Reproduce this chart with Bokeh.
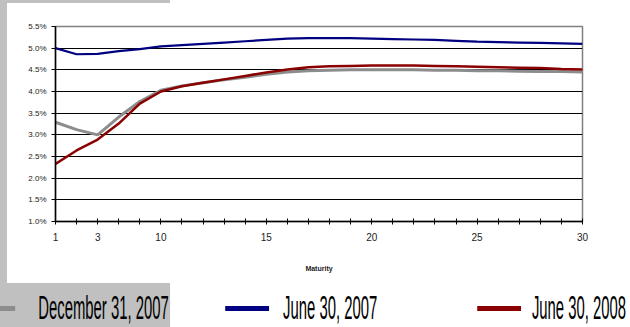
from bokeh.plotting import figure
from bokeh.layouts import column
from bokeh.models import (Range1d, FixedTicker, Legend, LegendItem,
                          ColumnDataSource, PrintfTickFormatter)
from bokeh.embed import file_html
from bokeh.resources import INLINE

# Treasury maturities (years) plotted as evenly spaced categories
maturities = [1, 2, 3, 5, 7, 10, 11, 12, 13, 14, 15, 16, 17, 18, 19, 20,
              21, 22, 23, 24, 25, 26, 27, 28, 29, 30]
labelled = [1, 3, 10, 15, 20, 25, 30]

# Yields in percent
june_2007 = [5.00, 4.86, 4.87, 4.93, 4.98, 5.04, 5.07, 5.10, 5.13, 5.16,
             5.19, 5.22, 5.23, 5.23, 5.23, 5.22, 5.21, 5.20, 5.19, 5.17,
             5.15, 5.14, 5.13, 5.12, 5.11, 5.10]
dec_2007 = [3.29, 3.12, 3.00, 3.41, 3.77, 4.03, 4.13, 4.20, 4.27, 4.33,
            4.40, 4.45, 4.48, 4.49, 4.50, 4.50, 4.50, 4.50, 4.49, 4.49,
            4.48, 4.48, 4.47, 4.46, 4.46, 4.45]
june_2008 = [2.33, 2.64, 2.89, 3.26, 3.72, 4.00, 4.12, 4.20, 4.28, 4.36,
             4.44, 4.51, 4.56, 4.58, 4.59, 4.60, 4.60, 4.60, 4.59, 4.58,
             4.57, 4.56, 4.55, 4.54, 4.52, 4.51]

series_names = ["December 31, 2007", "June 30, 2007", "June 30, 2008"]
series_colors = ["#8c8c8c", "#000080", "#8b0000"]

pos = list(range(len(maturities)))
src = ColumnDataSource(dict(x=pos, jun07=june_2007, dec07=dec_2007, jun08=june_2008))

GREY = "#c0c0c0"
fill = f"linear-gradient({GREY}, {GREY})"

# ---- chart ----------------------------------------------------------------
p = figure(width=630, height=283, output_backend="svg", toolbar_location=None,
           x_range=Range1d(0, len(maturities) - 1), y_range=Range1d(1.0, 5.5),
           min_border_left=55, min_border_right=48, min_border_top=26,
           min_border_bottom=62, frame_align=False,
           styles={"background-color": "white",
                   "background-image": f"{fill}, {fill}",
                   "background-size": "7px 283px, 170px 3px",
                   "background-position": "0px 0px, 0px 0px",
                   "background-repeat": "no-repeat"})
p.background_fill_color = "white"
p.border_fill_alpha = 0
p.outline_line_color = "#808080"
p.outline_line_width = 1.5

# x axis: a tick at every maturity, labels only at selected ones
p.xaxis.ticker = FixedTicker(ticks=pos)
p.xaxis.major_label_overrides = {i: (str(m) if m in labelled else "")
                                 for i, m in zip(pos, maturities)}
p.xaxis.axis_label = "Maturity"
p.xaxis.axis_label_text_font = "Liberation Sans"
p.xaxis.axis_label_text_font_size = "7px"
p.xaxis.axis_label_text_font_style = "bold"
p.xaxis.axis_label_standoff = 21
p.xaxis.major_label_text_font_size = "10px"
p.xaxis.major_label_standoff = 8
p.xaxis.major_tick_in = 3
p.xaxis.major_tick_out = 3
p.xaxis.minor_tick_line_color = None

p.yaxis.ticker = FixedTicker(ticks=[1.0, 1.5, 2.0, 2.5, 3.0, 3.5, 4.0, 4.5, 5.0, 5.5])
p.yaxis.formatter = PrintfTickFormatter(format="%.1f%%")
p.yaxis.major_label_text_font_size = "8px"
p.yaxis.major_label_standoff = 5
p.yaxis.major_tick_in = 0
p.yaxis.major_tick_out = 4
p.yaxis.minor_tick_line_color = None

for ax in (p.xaxis, p.yaxis):
    ax.axis_line_color = "black"
    ax.axis_line_width = 1.5
    ax.major_tick_line_color = "black"
    ax.major_label_text_font = "Liberation Sans"
    ax.major_label_text_color = "#222222"
    ax.axis_label_text_color = "#222222"

p.xgrid.grid_line_color = None
p.ygrid.grid_line_color = "black"
p.ygrid.grid_line_width = 1

p.line("x", "dec07", source=src, line_color=series_colors[0], line_width=3)
p.line("x", "jun07", source=src, line_color=series_colors[1], line_width=2.2)
p.line("x", "jun08", source=src, line_color=series_colors[2], line_width=2.5)

# ---- legend strip ---------------------------------------------------------
# One small strip per entry, each squeezed horizontally for the tall
# condensed lettering and shifted into place on the same row.
SQUEEZE = 0.45
STRIP_W = 1000
STRIP_H = 44
nan = float("nan")

# (shift of the squeezed strip, key start inside it, gap from key to text)
placements = [(0, -64, 51), (225, 0, 31), (477, 0, 24)]

strips = []
for i, (name, color, (shift, x0, gap)) in enumerate(
        zip(series_names, series_colors, placements)):
    styles = {"transform": f"translate({shift}px, {-STRIP_H * i}px) scaleX({SQUEEZE})",
              "transform-origin": "0 0"}
    if i == 0:
        styles.update({"background-color": "white",
                       "background-image": fill,
                       "background-size": f"{round(170 / SQUEEZE)}px {STRIP_H}px",
                       "background-position": "0px 0px",
                       "background-repeat": "no-repeat"})
    s = figure(width=STRIP_W, height=STRIP_H, output_backend="svg",
               toolbar_location=None, x_axis_type=None, y_axis_type=None,
               min_border=0, frame_align=False,
               x_range=Range1d(0, 1), y_range=Range1d(0, 1), styles=styles)
    s.background_fill_alpha = 0
    s.border_fill_alpha = 0
    s.outline_line_color = None
    s.xgrid.visible = False
    s.ygrid.visible = False
    key = s.line(x=[nan, nan], y=[nan, nan], line_color=color, line_width=5)
    s.add_layout(Legend(items=[LegendItem(label=name, renderers=[key])],
                        location=(x0, 0), glyph_width=98, glyph_height=20,
                        label_standoff=gap, padding=0, margin=0, spacing=0,
                        label_text_font="Liberation Sans",
                        label_text_font_size="33px", label_text_color="black",
                        border_line_alpha=0, background_fill_alpha=0), "center")
    strips.append(s)

layout = column(p, *strips, spacing=0)
open("out.html", "w").write(file_html(layout, INLINE))
